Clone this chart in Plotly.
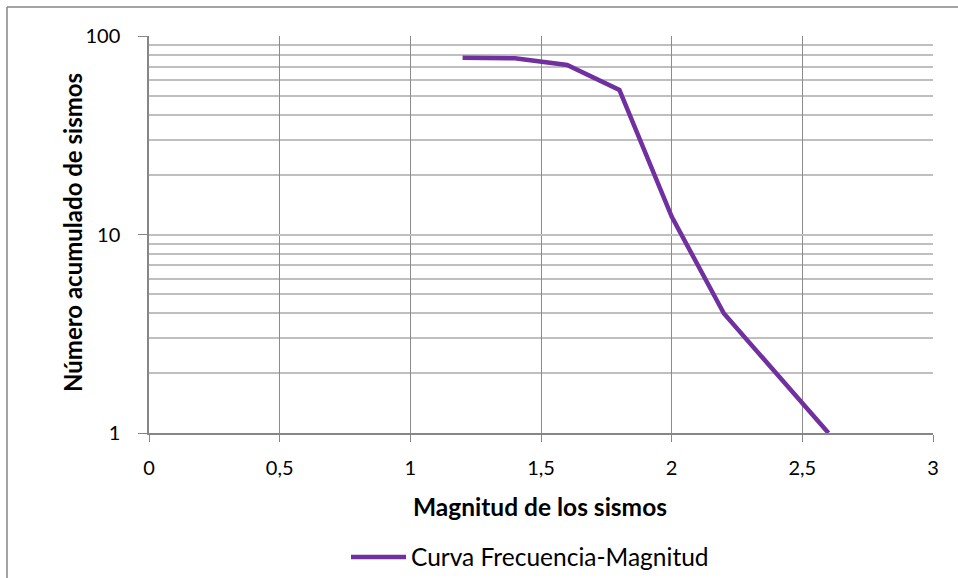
import plotly.graph_objects as go

magnitudes = [1.2, 1.4, 1.6, 1.8, 2.0, 2.2, 2.4, 2.6]
cumulative = [77.8, 77.2, 71.4, 53.5, 12.3, 4.0, 2.0, 1.0]
series_name = "Curva Frecuencia-Magnitud"
x_ticks = [0, 0.5, 1, 1.5, 2, 2.5, 3]
y_ticks = [1, 10, 100]
y_ticktext = ["1", "10", "100"]

FONT = "Lato, Carlito, Calibri, sans-serif"
W, H = 958, 578
L, R, T, B = 149, 25, 36, 145
pw, ph = W - L - R, H - T - B

def px_x(p):
    return (p - L) / pw

def px_y(p):
    return (H - B - p) / ph

fig = go.Figure()
fig.add_trace(go.Scatter(
    x=magnitudes, y=cumulative, mode="lines", name=series_name,
    line=dict(color="#7030A0", width=4.5),
))

fig.update_layout(
    width=W, height=H,
    margin=dict(l=L, r=R, t=T, b=B, autoexpand=False),
    paper_bgcolor="white", plot_bgcolor="white",
    separators=",.",
    font=dict(family=FONT, size=20, color="black"),
    showlegend=True,
    legend=dict(orientation="h", x=px_x(530), xanchor="center", yref="container",
                y=(H - 557) / H, yanchor="middle",
                font=dict(size=24.5), itemwidth=55),
    xaxis=dict(range=[0, 3], tickvals=x_ticks, showgrid=True, gridcolor="#8C8C8C", gridwidth=1,
               showline=True, linecolor="#868686", linewidth=1.5, ticks="outside", ticklen=7,
               tickcolor="#868686", zeroline=False, tickfont=dict(size=20), automargin=False,
               ticklabelstandoff=9),
    yaxis=dict(type="log", range=[0, 2], tickvals=y_ticks, ticktext=y_ticktext,
               showgrid=True, gridcolor="#BFBFBF", gridwidth=1.5,
               minor=dict(showgrid=True, gridcolor="#BFBFBF", gridwidth=1.5, dtick="D1", ticks=""),
               showline=True, linecolor="#868686", linewidth=1.5, ticks="outside", ticklen=9,
               tickcolor="#868686", zeroline=False, tickfont=dict(size=20), automargin=False,
               ticklabelstandoff=14),
    annotations=[
        dict(text="<b>Magnitud de los sismos</b>", xref="paper", yref="paper",
             x=px_x(540), y=px_y(506), xanchor="center", yanchor="middle",
             showarrow=False, font=dict(size=24.5)),
        dict(text="<b>Número acumulado de sismos</b>", xref="paper", yref="paper",
             x=px_x(72), y=px_y(233), xanchor="center", yanchor="middle", textangle=-90,
             showarrow=False, font=dict(size=24)),
    ],
    shapes=[
        dict(type="line", xref="paper", yref="paper", x0=px_x(7), x1=px_x(970), y0=px_y(7), y1=px_y(7),
             line=dict(color="#868686", width=1.5)),
        dict(type="line", xref="paper", yref="paper", x0=px_x(7), x1=px_x(7), y0=px_y(7), y1=px_y(590),
             line=dict(color="#868686", width=1.5)),
    ],
)

fig.write_html("out.html")
